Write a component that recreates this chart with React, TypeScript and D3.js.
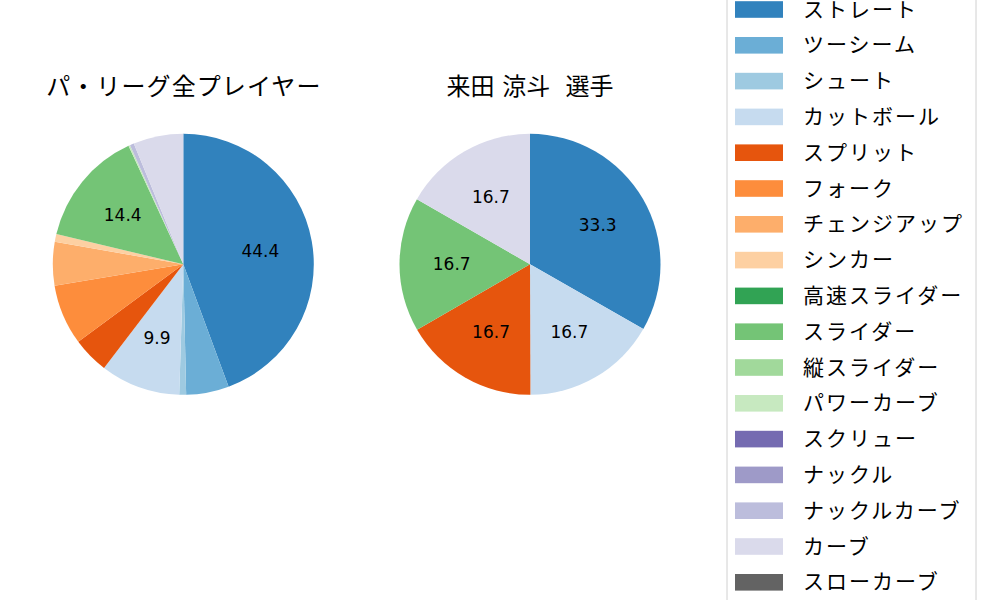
import React from "react";
import * as d3 from "d3";

const pitchTypes = [
  "ストレート", "ツーシーム", "シュート", "カットボール", "スプリット", "フォーク",
  "チェンジアップ", "シンカー", "高速スライダー", "スライダー", "縦スライダー", "パワーカーブ",
  "スクリュー", "ナックル", "ナックルカーブ", "カーブ", "スローカーブ",
];
const pitchColors = [
  "#3182bd", "#6baed6", "#9ecae1", "#c6dbef", "#e6550d", "#fd8d3c",
  "#fdae6b", "#fdd0a2", "#31a354", "#74c476", "#a1d99b", "#c7e9c0",
  "#756bb1", "#9e9ac8", "#bcbddc", "#dadaeb", "#636363",
];
const leagueValues = [44.4, 5.3, 0.85, 9.9, 4.5, 7.5, 5.4, 0.95, 0, 14.4, 0, 0.2, 0, 0, 0.5, 6.2, 0];
const playerValues = [33.3, 0, 0, 16.7, 16.7, 0, 0, 0, 0, 16.7, 0, 0, 0, 0, 0, 16.7, 0];
const titles = ["パ・リーグ全プレイヤー", "来田 涼斗\u00a0\u00a0選手"];

const R = 130.5;
const CY = 264.3;
const CXS = [183.3, 530];
const FONT = "'DejaVu Sans', 'Noto Sans CJK JP', sans-serif";

function Pie({ values, cx, title, spacing }: { values: number[]; cx: number; title: string; spacing: number }) {
  const total = d3.sum(values);
  const data = values.map((v, i) => ({ v, i }));
  const arcs = d3.pie<{ v: number; i: number }>().sort(null).value((d) => d.v).startAngle(0).endAngle(2 * Math.PI)(data);
  const arc = d3.arc<d3.PieArcDatum<{ v: number; i: number }>>().innerRadius(0).outerRadius(R);
  const labelArc = d3.arc<d3.PieArcDatum<{ v: number; i: number }>>().innerRadius(R * 0.6).outerRadius(R * 0.6);
  return (
    <g>
      <text x={cx + spacing / 2} y={87} textAnchor="middle" dominantBaseline="central" fontSize={24} letterSpacing={spacing} fontFamily={FONT} fill="#000">
        {title}
      </text>
      <g transform={`translate(${cx},${CY})`}>
        {arcs.filter((a) => a.data.v > 0).map((a) => (
          <path key={a.data.i} d={arc(a) || ""} fill={pitchColors[a.data.i]} />
        ))}
        {arcs.filter((a) => (a.data.v / total) * 100 > 9).map((a) => {
          const [x, y] = labelArc.centroid(a);
          return (
            <text key={"l" + a.data.i} x={x} y={y} textAnchor="middle" dominantBaseline="central" fontSize={17} fontFamily={FONT} fill="#000">
              {((a.data.v / total) * 100).toFixed(1)}
            </text>
          );
        })}
      </g>
    </g>
  );
}

export default function App() {
  const legendTop = 9.5;
  const legendStep = 35.8;
  return (
    <svg width={1000} height={600} style={{ position: "absolute", left: 0, top: 0, background: "#fff" }}>
      <rect x={0} y={0} width={1000} height={600} fill="#fff" />
      <Pie values={leagueValues} cx={CXS[0]} title={titles[0]} spacing={1.1} />
      <Pie values={playerValues} cx={CXS[1]} title={titles[1]} spacing={0} />
      <rect x={727} y={-40} width={249} height={690} rx={4} fill="#fff" stroke="#d0d0d0" strokeWidth={1} />
      {pitchTypes.map((p, i) => {
        const y = legendTop + i * legendStep;
        return (
          <g key={p}>
            <rect x={735} y={y - 8.3} width={48} height={16.6} fill={pitchColors[i]} />
            <text x={803} y={y} dominantBaseline="central" fontSize={21} letterSpacing={2} fontFamily={FONT} fill="#000">
              {p}
            </text>
          </g>
        );
      })}
    </svg>
  );
}
